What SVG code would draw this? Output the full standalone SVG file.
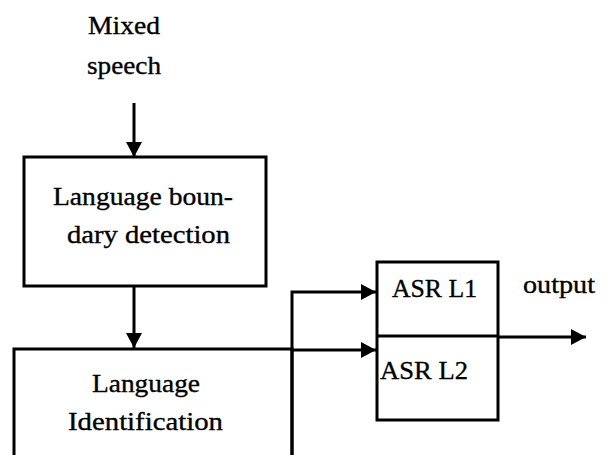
<svg xmlns="http://www.w3.org/2000/svg" width="609" height="455" viewBox="0 0 609 455">
  <style>
    .box { fill: none; stroke: #000; stroke-width: 3; }
    .wire { fill: none; stroke: #000; stroke-width: 3; }
    .lbl { font-family: "Liberation Serif", "Times New Roman", serif; font-size: 26px; fill: #000; stroke: #000; stroke-width: 0.35; }
  </style>
  <defs>
    <marker id="arrow" viewBox="0 0 15 16" refX="15" refY="8" markerWidth="15" markerHeight="16" markerUnits="userSpaceOnUse" orient="auto">
      <path d="M0,0 L15,8 L0,16 Z" fill="#000"/>
    </marker>
  </defs>
  <rect width="609" height="455" fill="#fff"/>

  <g id="input">
    <text class="lbl" x="88" y="34" textLength="72" lengthAdjust="spacingAndGlyphs">Mixed</text>
    <text class="lbl" x="87" y="74" textLength="74" lengthAdjust="spacingAndGlyphs">speech</text>
  </g>

  <g id="boundary-detection">
    <rect class="box" x="24" y="157" width="242" height="129"/>
    <text class="lbl" x="53" y="205" textLength="180" lengthAdjust="spacingAndGlyphs">Language boun-</text>
    <text class="lbl" x="67" y="243" textLength="163" lengthAdjust="spacingAndGlyphs">dary detection</text>
  </g>

  <g id="language-identification">
    <path class="box" d="M14,460 V349 H292 V460"/>
    <text class="lbl" x="92" y="392" textLength="108" lengthAdjust="spacingAndGlyphs">Language</text>
    <text class="lbl" x="68" y="430" textLength="155" lengthAdjust="spacingAndGlyphs">Identification</text>
  </g>

  <g id="asr">
    <rect class="box" x="377" y="262" width="121" height="158"/>
    <line class="box" x1="377" y1="336" x2="498" y2="336"/>
    <text class="lbl" x="392" y="297" textLength="85" lengthAdjust="spacingAndGlyphs">ASR L1</text>
    <text class="lbl" x="380" y="379" textLength="88" lengthAdjust="spacingAndGlyphs">ASR L2</text>
  </g>

  <g id="output">
    <text class="lbl" x="523" y="293" textLength="72" lengthAdjust="spacingAndGlyphs">output</text>
  </g>

  <g id="connectors">
    <line class="wire" x1="134" y1="103" x2="134" y2="157" marker-end="url(#arrow)"/>
    <line class="wire" x1="134" y1="286" x2="134" y2="348" marker-end="url(#arrow)"/>
    <path class="wire" d="M292,460 V292 H376" marker-end="url(#arrow)"/>
    <line class="wire" x1="292" y1="350" x2="376" y2="350" marker-end="url(#arrow)"/>
    <line class="wire" x1="498" y1="337" x2="586" y2="337" marker-end="url(#arrow)"/>
  </g>
</svg>
